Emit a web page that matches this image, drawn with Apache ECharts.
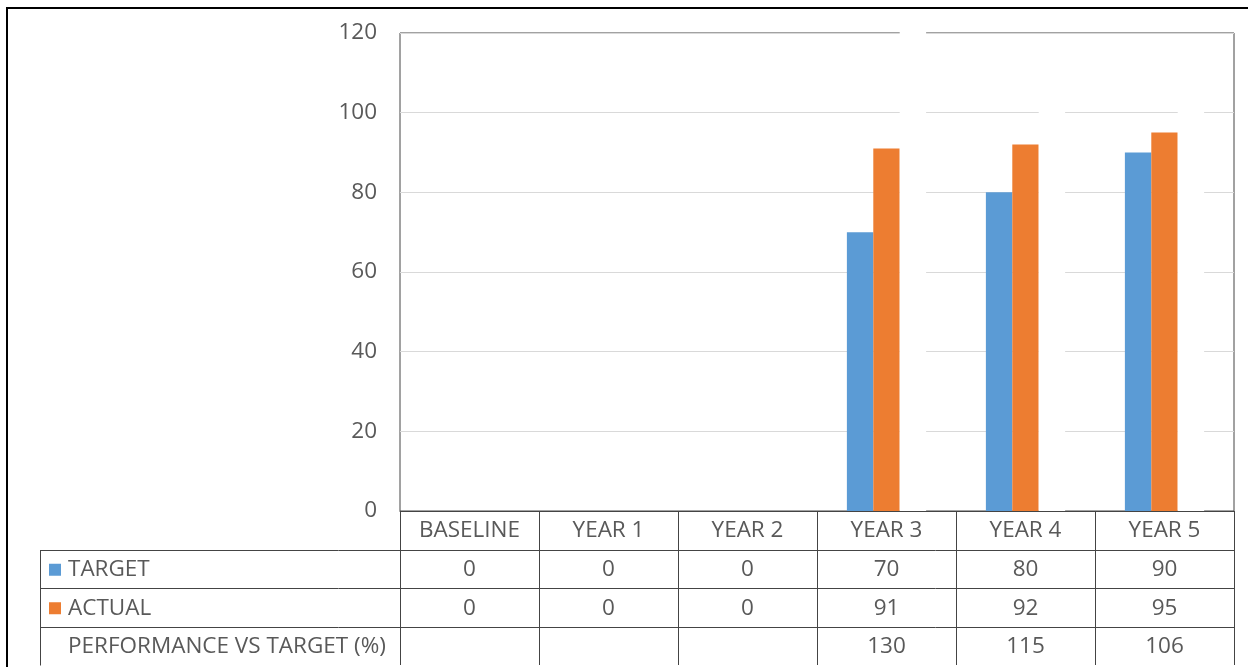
<!DOCTYPE html>
<html>
<head>
<meta charset="utf-8">
<script src="https://cdn.jsdelivr.net/npm/echarts@6/dist/echarts.min.js"></script>
<style>
  html, body { margin: 0; padding: 0; background: #ffffff; }
  #chart { width: 1248px; height: 667px; }
</style>
</head>
<body>
<div id="chart"></div>
<script>
// ---- data ----
const categories = ['BASELINE', 'YEAR 1', 'YEAR 2', 'YEAR 3', 'YEAR 4', 'YEAR 5'];
const targetValues = [0, 0, 0, 70, 80, 90];
const actualValues = [0, 0, 0, 91, 92, 95];
const performanceValues = [null, null, null, 130, 115, 106];
const seriesNames = ['TARGET', 'ACTUAL', 'PERFORMANCE VS TARGET (%)'];
const yMin = 0, yMax = 120, yStep = 20;

// ---- style ----
const BLUE = '#5B9BD5';
const ORANGE = '#ED7D31';
const TEXT = '#595959';
const LINE = '#444444';
const GRIDLINE = '#D9D9D9';
const FONT = '"Open Sans", "Noto Sans", sans-serif';
const FS = 22.5;
const GRID = { left: 400, right: 14, top: 33, bottom: 156 };
const ROW_H = 38.5;          // height of one data-table row
const TABLE_LEFT = 40;       // left edge of the row-label column

const chart = echarts.init(document.getElementById('chart'), null, { renderer: 'canvas' });

chart.setOption({
  animation: false,
  grid: {
    left: GRID.left, right: GRID.right, top: GRID.top, bottom: GRID.bottom,
    show: true, borderColor: LINE, borderWidth: 1, backgroundColor: 'transparent'
  },
  xAxis: {
    type: 'category',
    data: categories,
    boundaryGap: true,
    axisLine: { show: true, lineStyle: { color: LINE, width: 1 } },
    axisTick: { show: true, length: ROW_H * 4, lineStyle: { color: LINE, width: 1 } },
    axisLabel: { color: TEXT, fontSize: FS, fontFamily: FONT, margin: 8, interval: 0 },
    splitLine: { show: false }
  },
  yAxis: {
    type: 'value',
    min: yMin, max: yMax, interval: yStep,
    axisLine: { show: false },
    axisTick: { show: false },
    axisLabel: { color: TEXT, fontSize: FS, fontFamily: FONT, margin: 23 },
    splitLine: { show: true, lineStyle: { color: GRIDLINE, width: 1 } }
  },
  series: [
    {
      name: seriesNames[0], type: 'bar', data: targetValues,
      itemStyle: { color: BLUE }, barGap: '0%', barCategoryGap: '43%'
    },
    {
      name: seriesNames[1], type: 'bar', data: actualValues,
      itemStyle: { color: ORANGE }, barGap: '0%', barCategoryGap: '43%'
    },
    {
      // the ratio series has no fill colour of its own; it paints white over the grid
      name: seriesNames[2], type: 'bar', data: performanceValues, silent: true, clip: true,
      itemStyle: { color: '#ffffff', borderColor: '#ffffff', borderWidth: 2 },
      barGap: '0%', barCategoryGap: '43%', z: 3
    }
  ]
});

// ---- data table under the axis ----
function drawTable() {
  const baseY = chart.convertToPixel({ yAxisIndex: 0 }, yMin);
  const c0 = chart.convertToPixel({ xAxisIndex: 0 }, 0);
  const c1 = chart.convertToPixel({ xAxisIndex: 0 }, 1);
  const band = c1 - c0;
  const right = chart.convertToPixel({ xAxisIndex: 0 }, categories.length - 1) + band / 2;

  const rows = [
    { label: seriesNames[0], values: targetValues, key: BLUE },
    { label: seriesNames[1], values: actualValues, key: ORANGE },
    { label: seriesNames[2], values: performanceValues, key: null }
  ];

  const els = [];
  const lineStyle = { stroke: LINE, lineWidth: 1 };

  // horizontal rules under the header row and each data row
  for (let r = 1; r <= rows.length; r++) {
    const y = Math.round(baseY + ROW_H * r) + 0.5;
    els.push({ type: 'line', shape: { x1: TABLE_LEFT, y1: y, x2: right, y2: y }, style: lineStyle, silent: true });
  }
  // left edge of the label column
  const x0 = TABLE_LEFT + 0.5;
  els.push({
    type: 'line',
    shape: { x1: x0, y1: Math.round(baseY + ROW_H) + 0.5, x2: x0, y2: Math.round(baseY + ROW_H * 4) + 0.5 },
    style: lineStyle, silent: true
  });

  rows.forEach((row, r) => {
    const cy = baseY + ROW_H * (r + 1) + ROW_H / 2 + 1;
    if (row.key) {
      els.push({ type: 'rect', shape: { x: 49, y: cy - 6, width: 12, height: 12 }, style: { fill: row.key }, silent: true });
    }
    els.push({
      type: 'text', x: 68, y: cy, silent: true,
      style: { text: row.label, fill: TEXT, font: `${FS}px ${FONT}`, align: 'left', verticalAlign: 'middle' }
    });
    row.values.forEach((v, i) => {
      if (v === null || v === undefined) return;
      const cx = chart.convertToPixel({ xAxisIndex: 0 }, i);
      els.push({
        type: 'text', x: cx, y: cy, silent: true,
        style: { text: String(v), fill: TEXT, font: `${FS}px ${FONT}`, align: 'center', verticalAlign: 'middle' }
      });
    });
  });

  // outer chart frame
  els.push({
    type: 'rect', shape: { x: 7, y: 8, width: 1400, height: 800 },
    style: { fill: 'none', stroke: '#000000', lineWidth: 2 }, silent: true
  });

  chart.setOption({ graphic: els });
}
drawTable();
</script>
</body>
</html>
